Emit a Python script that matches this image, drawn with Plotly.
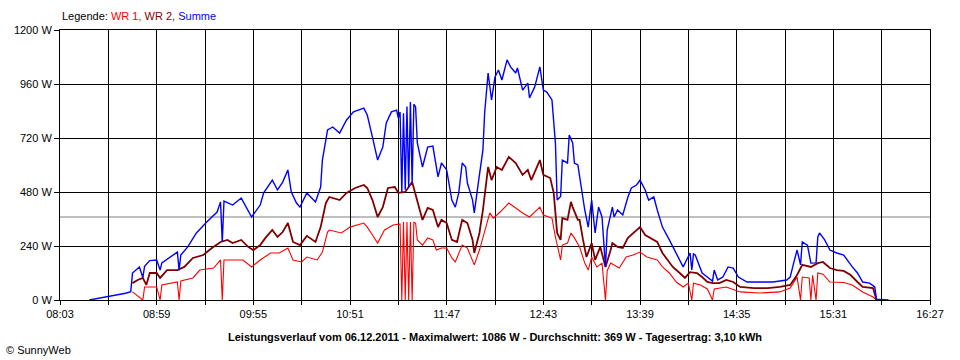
import plotly.graph_objects as go

# ---------------- data ----------------
wr1_t = ["08:45","08:51","08:52","08:59","09:01","09:02","09:11","09:12","09:13","09:20","09:24","09:32",
         "09:36","09:37","09:38","09:49","09:54","09:59","10:05","10:10","10:15","10:18","10:23","10:26",
         "10:32","10:35","10:38","10:39","10:46","10:51","10:59","11:01","11:04","11:07","11:11","11:16",
         "11:20","11:21","11:22","11:23","11:24","11:25","11:26","11:27","11:28","11:29","11:30","11:33",
         "11:36","11:39","11:41","11:44","11:47","11:50","11:52","11:56","11:59","12:02","12:03","12:06",
         "12:09","12:12","12:14","12:18","12:23","12:27","12:31","12:35","12:41","12:43","12:48","12:50",
         "12:52","12:53","12:54","12:57","12:59","13:01","13:04","13:07","13:09","13:11","13:14","13:17",
         "13:19","13:20","13:22","13:27","13:31","13:35","13:39","13:43","13:49","13:52","13:56","14:00",
         "14:04","14:07","14:09","14:10","14:14","14:18","14:21","14:22","14:29","14:37","14:48","15:00",
         "15:06","15:10","15:12","15:13","15:17","15:18","15:19","15:21","15:22","15:25","15:29","15:37",
         "15:42","15:48","15:54","15:56"]
wr1_w = [36,0,58,58,0,67,80,0,85,98,133,142,
         178,0,178,178,147,178,209,209,231,178,169,191,
         178,213,302,311,298,324,342,324,289,253,311,333,
         338,0,347,0,347,0,347,0,345,342,267,244,
         276,267,222,231,231,187,169,244,231,178,156,222,
         311,387,364,391,431,409,387,369,413,378,364,280,
         209,178,244,253,298,276,236,164,133,191,147,164,
         0,130,164,142,191,200,213,191,178,147,120,80,
         58,75,0,75,67,49,0,49,58,36,31,36,
         53,102,0,102,98,0,110,0,120,115,80,78,
         67,36,13,0]

wr2_t = ["08:45","08:48","08:51","08:53","08:55","08:59","09:01","09:05","09:11","09:15","09:20","09:26",
         "09:31","09:36","09:40","09:43","09:48","09:52","09:55","09:59","10:02","10:06","10:09","10:12",
         "10:15","10:18","10:22","10:26","10:31","10:34","10:37","10:39","10:45","10:49","10:54","10:59",
         "11:01","11:04","11:07","11:10","11:13","11:17","11:19","11:23","11:27","11:30","11:33","11:36",
         "11:39","11:42","11:44","11:47","11:50","11:53","11:56","11:59","12:02","12:03","12:06","12:08",
         "12:11","12:13","12:16","12:19","12:23","12:27","12:31","12:34","12:36","12:41","12:43","12:47",
         "12:49","12:51","12:53","12:54","12:57","12:59","13:00","13:03","13:04","13:06","13:08","13:11",
         "13:13","13:16","13:19","13:22","13:23","13:26","13:29","13:32","13:35","13:39","13:42","13:45",
         "13:49","13:52","13:55","13:58","14:02","14:05","14:08","14:12","14:15","14:18","14:21","14:25",
         "14:29","14:33","14:37","14:45","14:53","15:00","15:06","15:10","15:13","15:18","15:22","15:25",
         "15:29","15:33","15:37","15:41","15:45","15:48","15:54","15:56"]
wr2_w = [75,89,98,67,120,120,98,133,133,147,187,200,
         231,258,267,253,267,236,222,244,276,311,280,302,
         342,258,244,285,258,324,431,458,444,476,498,511,
         498,444,369,413,498,502,476,480,524,444,356,409,
         400,324,356,342,267,258,356,342,267,209,298,400,
         591,533,591,578,636,609,556,578,533,622,556,542,
         476,298,267,364,356,436,413,356,356,267,191,253,
         178,236,147,222,253,236,231,276,298,324,289,276,
         258,209,178,147,120,98,124,120,102,80,75,75,
         89,80,58,53,53,58,67,111,156,147,164,169,
         142,133,129,111,80,58,53,0]

summe_t = ["08:20","08:26","08:31","08:35","08:41","08:44","08:45","08:49","08:51","08:52","08:55","08:59",
           "09:01","09:02","09:05","09:11","09:12","09:13","09:17","09:22","09:28","09:34","09:36","09:37",
           "09:38","09:43","09:48","09:54","09:59","10:01","10:06","10:09","10:12","10:15","10:17","10:20",
           "10:22","10:26","10:31","10:34","10:35","10:38","10:41","10:45","10:49","10:53","10:59","11:01",
           "11:04","11:07","11:10","11:12","11:15","11:18","11:19","11:20","11:21","11:22","11:23","11:24",
           "11:25","11:26","11:27","11:28","11:29","11:30","11:33","11:36","11:39","11:40","11:42","11:44",
           "11:47","11:50","11:52","11:54","11:56","11:58","11:59","12:02","12:03","12:05","12:08","12:09",
           "12:11","12:13","12:15","12:17","12:19","12:22","12:24","12:27","12:28","12:31","12:34","12:35",
           "12:38","12:41","12:43","12:45","12:48","12:50","12:51","12:53","12:54","12:57","12:58","13:00",
           "13:01","13:03","13:05","13:07","13:09","13:11","13:13","13:15","13:17","13:19","13:20","13:23",
           "13:24","13:26","13:29","13:32","13:34","13:37","13:39","13:42","13:44","13:47","13:49","13:52",
           "13:56","13:59","14:02","14:04","14:06","14:08","14:09","14:10","14:11","14:13","14:15","14:18",
           "14:21","14:22","14:24","14:27","14:30","14:33","14:36","14:41","14:48","14:56","15:04","15:06",
           "15:08","15:10","15:12","15:13","15:16","15:18","15:21","15:22","15:23","15:26","15:29","15:33",
           "15:37","15:39","15:42","15:45","15:48","15:52","15:55","15:56","16:02","16:03"]
summe_w = [0,8,18,22,30,37,120,147,100,150,175,178,
           133,165,180,213,133,200,236,298,347,391,436,258,
           440,422,453,369,422,476,533,489,524,578,480,431,
           413,476,436,502,622,756,769,742,800,836,853,822,
           724,622,680,787,836,844,809,836,480,830,490,860,
           500,880,520,870,858,698,591,680,684,636,547,609,
           578,444,413,476,609,591,520,444,387,502,667,831,
           1009,889,991,1022,978,1067,1036,1009,1031,933,964,898,
           947,1036,933,924,889,698,444,460,622,609,733,698,
           609,600,489,400,324,444,298,413,369,147,311,413,
           369,400,378,458,498,511,533,489,444,458,400,324,
           267,222,178,147,178,209,134,205,200,164,120,102,
           84,133,89,102,147,142,102,80,80,80,89,102,
           164,222,156,258,244,164,165,280,298,267,222,209,
           200,178,147,120,80,75,58,4,2,0]

AVERAGE_W = 369
x_tick_labels = ["08:03", "08:59", "09:55", "10:51", "11:47", "12:43", "13:39", "14:35", "15:31", "16:27"]
y_tick_values = [0, 240, 480, 720, 960, 1200]
title_text = ("Leistungsverlauf vom 06.12.2011 - Maximalwert: 1086 W - "
              "Durchschnitt: 369 W - Tagesertrag: 3,10 kWh")


def to_min(s):
    h, m = s.split(":")[:2]
    return int(h) * 60 + int(m)


# ticks every 28 min, labels every 56 min
label_mins = [to_min(s) for s in x_tick_labels]
tick_vals, tick_text = [], []
for i, m in enumerate(label_mins):
    tick_vals.append(m)
    tick_text.append(x_tick_labels[i])
    if i < len(label_mins) - 1:
        tick_vals.append((m + label_mins[i + 1]) / 2)
        tick_text.append("")

FONT = "Liberation Sans, Arial, sans-serif"

fig = go.Figure()
fig.add_trace(go.Scatter(x=[to_min(t) for t in wr1_t], y=wr1_w, mode="lines", name="WR 1",
                         line=dict(color="#FF0000", width=1.1)))
fig.add_trace(go.Scatter(x=[to_min(t) for t in wr2_t], y=wr2_w, mode="lines", name="WR 2",
                         line=dict(color="#800000", width=1.8)))
fig.add_trace(go.Scatter(x=[to_min(t) for t in summe_t], y=summe_w, mode="lines", name="Summe",
                         line=dict(color="#0000FF", width=1.4)))

fig.add_shape(type="line", xref="paper", x0=0, x1=1, yref="y", y0=AVERAGE_W, y1=AVERAGE_W,
              line=dict(color="#808080", width=1.2), layer="below")

fig.update_layout(
    width=960, height=360,
    margin=dict(l=60, r=30, t=30, b=60),
    paper_bgcolor="white", plot_bgcolor="white",
    showlegend=False,
    font=dict(family=FONT, size=11, color="black"),
    xaxis=dict(range=[label_mins[0], label_mins[-1]], tickmode="array",
               tickvals=tick_vals, ticktext=tick_text,
               showgrid=True, gridcolor="black", gridwidth=1,
               showline=True, linecolor="black", linewidth=1, mirror=True,
               ticks="outside", ticklen=4, tickcolor="black", tickwidth=1,
               zeroline=False, tickfont=dict(size=11)),
    yaxis=dict(range=[0, 1200], tickmode="array", tickvals=y_tick_values,
               ticktext=[f"{v} W" for v in y_tick_values],
               showgrid=True, gridcolor="black", gridwidth=1,
               showline=True, linecolor="black", linewidth=1, mirror=True,
               ticks="outside", ticklen=5, tickcolor="black", tickwidth=1,
               zeroline=False, tickfont=dict(size=11)),
    annotations=[
        dict(xref="paper", yref="paper", x=0, y=1, xanchor="left", yanchor="bottom", yshift=6,
             showarrow=False, align="left",
             text="Legende: <span style='color:#FF0000'>WR 1,</span> "
                  "<span style='color:#800000'>WR 2,</span> "
                  "<span style='color:#0000FF'>Summe</span>",
             font=dict(size=11)),
        dict(xref="paper", yref="paper", x=0.5, y=0, xanchor="center", yanchor="top", yshift=-29,
             showarrow=False, text="<b>" + title_text + "</b>", font=dict(size=11)),
        dict(xref="paper", yref="paper", x=-60 / 870, y=0, xanchor="left", yanchor="top", yshift=-42,
             xshift=4, showarrow=False, text="© SunnyWeb", font=dict(size=11)),
    ],
)

fig.write_html("out.html", config={"displayModeBar": False},
               post_script="document.body.style.margin='0';document.body.style.overflow='hidden';")
